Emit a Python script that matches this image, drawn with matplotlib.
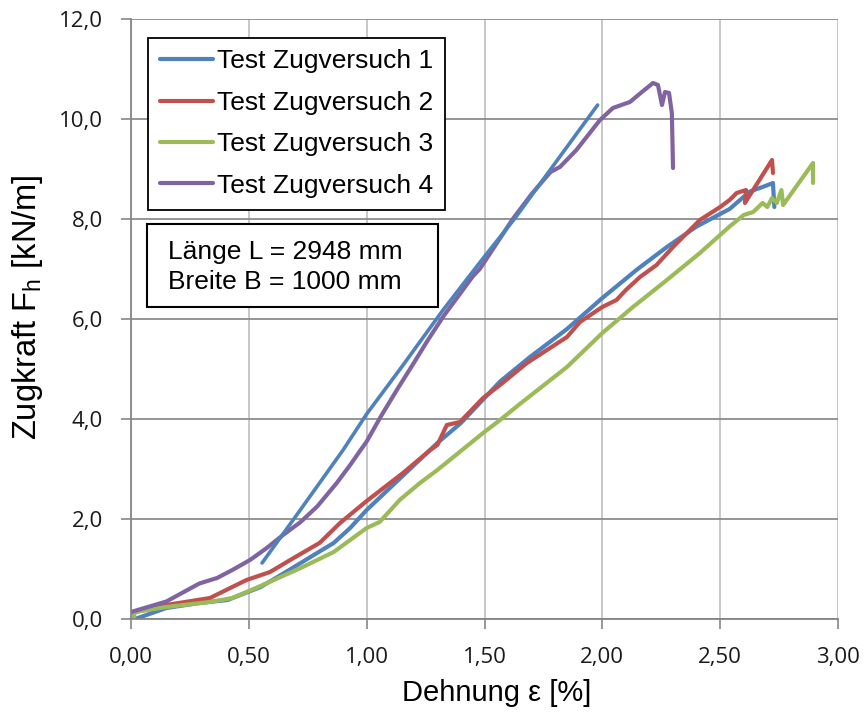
import matplotlib
matplotlib.use("Agg")
import matplotlib.pyplot as plt
from matplotlib.patches import Rectangle
from matplotlib.ticker import FuncFormatter

plt.rcParams['mathtext.fontset'] = 'custom'
plt.rcParams['mathtext.rm'] = 'Liberation Sans'

# Test Zugversuch 1 (unterer Ast)
x1 = [0.0, 0.017, 0.15, 0.29, 0.41, 0.55, 0.65, 0.72, 0.80, 0.86, 0.93, 1.0, 1.15, 1.30,
      1.40, 1.566, 1.693, 1.85, 2.0, 2.15, 2.274, 2.40, 2.54, 2.626, 2.68, 2.724, 2.73]
y1 = [0.0, 0.0, 0.22, 0.32, 0.38, 0.64, 0.92, 1.12, 1.35, 1.52, 1.82, 2.18, 2.85, 3.52,
      3.92, 4.75, 5.24, 5.80, 6.42, 7.00, 7.44, 7.85, 8.20, 8.55, 8.64, 8.72, 8.24]
# Test Zugversuch 1 (steiler Ast)
x1b = [0.556, 0.70, 0.90, 1.0, 1.15, 1.324, 1.50, 1.63, 1.80, 1.98]
y1b = [1.12, 2.06, 3.38, 4.10, 5.05, 6.18, 7.25, 8.02, 9.12, 10.28]

# Test Zugversuch 2
x2 = [0.0, 0.15, 0.335, 0.49, 0.59, 0.69, 0.80, 0.887, 1.0, 1.154, 1.27, 1.30, 1.34,
      1.396, 1.494, 1.566, 1.68, 1.85, 1.905, 2.0, 2.06, 2.10, 2.16, 2.23, 2.30, 2.414,
      2.50, 2.54, 2.57, 2.61, 2.605, 2.72, 2.724]
y2 = [0.12, 0.28, 0.42, 0.78, 0.94, 1.22, 1.52, 1.92, 2.36, 2.92, 3.38, 3.48, 3.88,
      3.94, 4.42, 4.68, 5.12, 5.64, 5.94, 6.24, 6.38, 6.58, 6.84, 7.08, 7.44, 7.98,
      8.24, 8.38, 8.52, 8.58, 8.32, 9.18, 8.92]

# Test Zugversuch 3
x3 = [0.01, 0.017, 0.15, 0.335, 0.43, 0.53, 0.72, 0.86, 1.0, 1.055, 1.14, 1.226, 1.30,
      1.494, 1.566, 1.65, 1.85, 2.0, 2.13, 2.274, 2.414, 2.54, 2.60, 2.64, 2.68, 2.70,
      2.72, 2.74, 2.76, 2.767, 2.894, 2.894]
y3 = [0.0, 0.14, 0.24, 0.34, 0.42, 0.62, 1.02, 1.34, 1.82, 1.94, 2.38, 2.72, 2.98,
      3.72, 3.98, 4.30, 5.04, 5.72, 6.24, 6.78, 7.32, 7.85, 8.08, 8.14, 8.32, 8.24,
      8.42, 8.32, 8.58, 8.28, 9.12, 8.72]

# Test Zugversuch 4
x4 = [0.0, 0.15, 0.29, 0.365, 0.43, 0.505, 0.576, 0.645, 0.717, 0.79, 0.873, 0.93,
      0.97, 1.0, 1.06, 1.128, 1.20, 1.26, 1.325, 1.45, 1.48, 1.55, 1.62, 1.70, 1.78, 1.82,
      1.89, 1.99, 2.045, 2.117, 2.168, 2.215, 2.236, 2.253, 2.266, 2.283, 2.295, 2.30]
y4 = [0.14, 0.35, 0.71, 0.82, 0.98, 1.18, 1.42, 1.68, 1.93, 2.25, 2.72, 3.08,
      3.35, 3.55, 4.05, 4.58, 5.12, 5.58, 6.05, 6.85, 7.00, 7.50, 8.00, 8.50, 8.94, 9.04,
      9.38, 9.98, 10.22, 10.34, 10.54, 10.72, 10.68, 10.28, 10.54, 10.52, 10.12, 9.02]

labels = ['Test Zugversuch 1', 'Test Zugversuch 2', 'Test Zugversuch 3', 'Test Zugversuch 4']
colors = ['#4F81BD', '#C0504D', '#9BBB59', '#8064A2']

x_ticks = [0.0, 0.5, 1.0, 1.5, 2.0, 2.5, 3.0]
y_ticks = [0, 2, 4, 6, 8, 10, 12]

fig = plt.figure(figsize=(8.64, 7.13), dpi=100)
ax = fig.add_axes([131 / 864, 94 / 713, 707 / 864, 600 / 713])

kw = dict(linewidth=3.0, solid_capstyle='round', solid_joinstyle='round')
l1, = ax.plot(x1, y1, color=colors[0], **kw)
l2, = ax.plot(x2, y2, color=colors[1], **kw)
l3, = ax.plot(x3, y3, color=colors[2], **kw)
l4, = ax.plot(x4, y4, color=colors[3], **kw)
ax.plot(x1b, y1b, color=colors[0], linewidth=2.6, solid_capstyle='round')

ax.set_xlim(0, 3)
ax.set_ylim(0, 12)
ax.set_xticks(x_ticks)
ax.set_yticks(y_ticks)
ax.xaxis.set_major_formatter(FuncFormatter(lambda v, p: '{:.2f}'.format(v).replace('.', ',')))
ax.yaxis.set_major_formatter(FuncFormatter(lambda v, p: '{:.1f}'.format(v).replace('.', ',')))
ax.tick_params(axis='both', direction='out', length=7, width=1.2, color='#868686',
               labelsize=16, labelcolor='#1a1a1a')
ax.tick_params(axis='y', pad=13)
ax.tick_params(axis='x', pad=13)
for lab in ax.get_xticklabels() + ax.get_yticklabels():
    lab.set_family('Open Sans')

ax.xaxis.grid(True, color='#c4c4c4', linewidth=1.3)
ax.yaxis.grid(True, color='#8c8c8c', linewidth=1.3)
ax.set_axisbelow(True)
for s in ['top', 'right']:
    ax.spines[s].set_visible(False)
for s in ['left', 'bottom']:
    ax.spines[s].set_color('#868686')
    ax.spines[s].set_linewidth(1.3)

leg = ax.legend([l1, l2, l3, l4], labels, loc='upper left', bbox_to_anchor=(0.024, 0.969),
                borderaxespad=0, fancybox=False, edgecolor='black', framealpha=1,
                prop={'family': 'Liberation Sans', 'size': 19}, handlelength=2.0,
                handletextpad=0.15, borderpad=0.45, labelspacing=0.66)
leg.get_frame().set_linewidth(1.3)

ax.add_patch(Rectangle((0.0226, 0.52), 0.4114, 0.138, transform=ax.transAxes,
                       facecolor='white', edgecolor='black', linewidth=1.5, zorder=5))
ax.text(0.052, 0.612, 'Länge L = 2948 mm', transform=ax.transAxes, va='center',
        family='Liberation Sans', fontsize=19, zorder=6)
ax.text(0.052, 0.562, 'Breite B = 1000 mm', transform=ax.transAxes, va='center',
        family='Liberation Sans', fontsize=19, zorder=6)

fig.text(28 / 864, 1 - 307 / 713, r'Zugkraft F$_\mathregular{h}$ [kN/m]', rotation=90,
         ha='center', va='center', family='Liberation Sans', fontsize=23.5)
fig.text(497 / 864, 1 - 693 / 713, 'Dehnung ε [%]', ha='center', va='center',
         family='Liberation Sans', fontsize=21)

fig.savefig('out.png', dpi=100, facecolor='white')
